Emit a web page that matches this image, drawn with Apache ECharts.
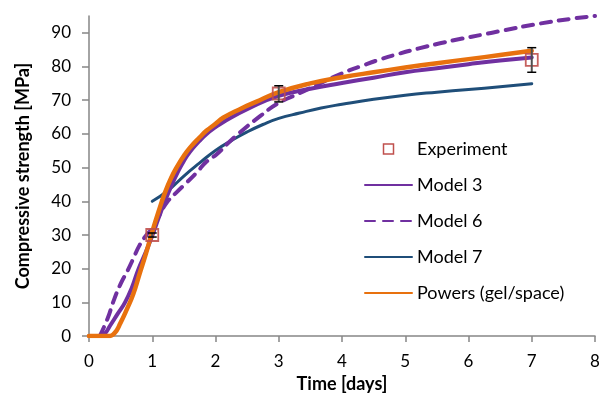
<!DOCTYPE html>
<html>
<head>
<meta charset="utf-8">
<script src="https://cdn.jsdelivr.net/npm/echarts@6/dist/echarts.min.js"></script>
<style>
html,body{margin:0;padding:0;background:#fff;}
#chart{width:603px;height:398px;}
</style>
</head>
<body>
<div id="chart"></div>
<script>
// ---- data ----
const xTicks = [0, 1, 2, 3, 4, 5, 6, 7, 8];
const yTicks = [0, 10, 20, 30, 40, 50, 60, 70, 80, 90];

const expDays = [1, 3, 7];
const expValues = [30, 72, 82];
const expErrLow = [29.4, 69.5, 78.3];
const expErrHigh = [30.6, 74.3, 85.6];

const m3Days = [0, 0.15, 0.25, 0.33, 0.45, 0.57, 0.68, 0.78, 0.9, 1.0, 1.1, 1.2, 1.3, 1.4, 1.5, 1.6, 1.75, 1.86, 2.0, 2.12, 2.54, 3.0, 3.5, 4.0, 4.5, 5.0, 5.5, 6.0, 6.5, 7.0];
const m3Vals = [0, 0, 0.8, 3, 6.5, 10, 14.5, 19.8, 25, 29.8, 35, 40, 44.5, 48.5, 52, 54.8, 58, 60, 62, 63.5, 67.7, 71.3, 73.4, 75.1, 76.7, 78.3, 79.5, 80.7, 81.8, 82.7];

const m6Days = [0.17, 0.3, 0.38, 0.5, 0.62, 0.7, 0.8, 0.9, 1.0, 1.1, 1.23, 1.38, 1.54, 1.7, 1.86, 2.02, 2.2, 2.39, 2.7, 3.0, 3.33, 3.65, 4.0, 4.3, 4.6, 4.9, 5.2, 5.55, 5.9, 6.2, 6.55, 7.05, 7.6, 8.0];
const m6Vals = [0, 5.5, 10, 15.5, 19.8, 23, 27, 29.8, 32, 35.5, 39.6, 42.6, 45.5, 48.5, 51.8, 54, 57.3, 60.5, 65.2, 69.2, 72.1, 75, 78, 80.1, 82.1, 83.8, 85.3, 86.9, 88.3, 89.4, 90.7, 92.5, 94.1, 95];

const m7Days = [1.0, 1.25, 1.5, 1.75, 2.0, 2.25, 2.5, 2.75, 3.0, 3.33, 3.67, 4.0, 4.5, 5.0, 5.5, 6.0, 6.5, 7.0];
const m7Vals = [40, 43.2, 47.5, 51.4, 55.1, 58, 60.6, 62.8, 64.6, 66.2, 67.7, 68.8, 70.3, 71.5, 72.4, 73.2, 74, 74.9];

const pwDays = [0, 0.3, 0.4, 0.5, 0.6, 0.7, 0.8, 0.9, 1.0, 1.1, 1.2, 1.3, 1.4, 1.5, 1.6, 1.75, 1.86, 2.0, 2.12, 2.4, 2.7, 3.0, 3.5, 4.0, 4.5, 5.0, 5.5, 6.0, 6.5, 7.0];
const pwVals = [0, 0, 0.8, 4, 8, 12.5, 18.5, 24.5, 31, 37, 42.5, 47, 50.5, 53.5, 56, 59, 61, 63, 64.8, 67.5, 70, 72.4, 75, 76.8, 78.3, 79.7, 81, 82.2, 83.4, 84.7];

const seriesNames = ['Experiment', 'Model 3', 'Model 6', 'Model 7', 'Powers (gel/space)'];

// ---- build ----
const zip = (a, b) => a.map((v, i) => [v, b[i]]);
const FONT = 'Lato';

const chart = echarts.init(document.getElementById('chart'), null, {renderer: 'canvas'});

function lineSeries(name, days, vals, color, width, type) {
  return {
    name: name,
    type: 'line',
    data: zip(days, vals),
    smooth: 0.5,
    showSymbol: false,
    symbol: 'none',
    clip: true,
    z: 2,
    lineStyle: {color: color, width: width, type: type || 'solid', cap: 'round', join: 'round'},
    itemStyle: {color: color}
  };
}

const hiddenSym = {opacity: 0};

const option = {
  animation: false,
  backgroundColor: '#ffffff',
  grid: {left: 89, right: 8, top: 16, bottom: 61, containLabel: false},
  xAxis: {
    type: 'value', min: 0, max: 8, interval: 1,
    name: 'Time [days]', nameLocation: 'middle', nameGap: 37,
    nameTextStyle: {fontFamily: FONT, fontWeight: 'bold', fontSize: 18, color: '#000'},
    axisLine: {lineStyle: {color: '#868686', width: 1.5}},
    axisTick: {show: true, length: 6, inside: false, lineStyle: {color: '#868686', width: 1.5}, customValues: xTicks},
    axisLabel: {fontFamily: FONT, fontSize: 17, color: '#000', margin: 17, customValues: xTicks},
    splitLine: {show: false}
  },
  yAxis: {
    type: 'value', min: 0, max: 95, interval: 10,
    name: 'Compressive strength [MPa]', nameLocation: 'middle', nameGap: 57,
    nameTextStyle: {fontFamily: FONT, fontWeight: 'bold', fontSize: 18, color: '#000'},
    axisLine: {show: true, lineStyle: {color: '#868686', width: 1.5}},
    axisTick: {show: true, length: 7, inside: false, lineStyle: {color: '#868686', width: 1.5}, customValues: yTicks},
    axisLabel: {fontFamily: FONT, fontSize: 17, color: '#000', margin: 18, customValues: yTicks},
    splitLine: {show: false}
  },
  legend: {
    orient: 'vertical',
    left: 359, top: 135,
    padding: 5,
    itemWidth: 47, itemHeight: 10, itemGap: 18,
    textStyle: {fontFamily: FONT, fontSize: 18, lineHeight: 18, color: '#000'},
    data: [
      {name: 'Experiment', icon: 'path://M0,0L10,0L10,10L0,10Z', itemStyle: {color: 'rgba(0,0,0,0)', borderColor: '#C0504D', borderWidth: 1.5, opacity: 1}},
      {name: 'Model 3', itemStyle: hiddenSym},
      {name: 'Model 6', itemStyle: hiddenSym},
      {name: 'Model 7', itemStyle: hiddenSym},
      {name: 'Powers (gel/space)', itemStyle: hiddenSym}
    ],
    selectedMode: false
  },
  series: [
    lineSeries('Model 7', m7Days, m7Vals, '#1F4E79', 3),
    lineSeries('Model 6', m6Days, m6Vals, '#7030A0', 4, [10, 8]),
    lineSeries('Model 3', m3Days, m3Vals, '#7030A0', 4),
    lineSeries('Powers (gel/space)', pwDays, pwVals, '#E8710E', 4.5),
    {
      name: 'Experiment',
      type: 'scatter',
      data: zip(expDays, expValues),
      symbol: 'rect',
      symbolSize: 12,
      z: 4,
      itemStyle: {color: 'rgba(0,0,0,0)', borderColor: '#C0504D', borderWidth: 1.8, opacity: 0.9}
    },
    {
      name: 'ExpErr',
      type: 'custom',
      z: 5,
      data: expDays.map((d, i) => [d, expErrLow[i], expErrHigh[i]]),
      renderItem: function (params, api) {
        const lo = api.coord([api.value(0), api.value(1)]);
        const hi = api.coord([api.value(0), api.value(2)]);
        const hw = 4.5;
        return {
          type: 'group',
          children: [
            {type: 'line', shape: {x1: lo[0], y1: lo[1], x2: hi[0], y2: hi[1]}, style: {stroke: '#505050', lineWidth: 2}},
            {type: 'line', shape: {x1: lo[0] - hw, y1: lo[1], x2: lo[0] + hw, y2: lo[1]}, style: {stroke: '#000', lineWidth: 1.5}},
            {type: 'line', shape: {x1: hi[0] - hw, y1: hi[1], x2: hi[0] + hw, y2: hi[1]}, style: {stroke: '#000', lineWidth: 1.5}}
          ]
        };
      }
    }
  ]
};
chart.setOption(option);
</script>
</body>
</html>
